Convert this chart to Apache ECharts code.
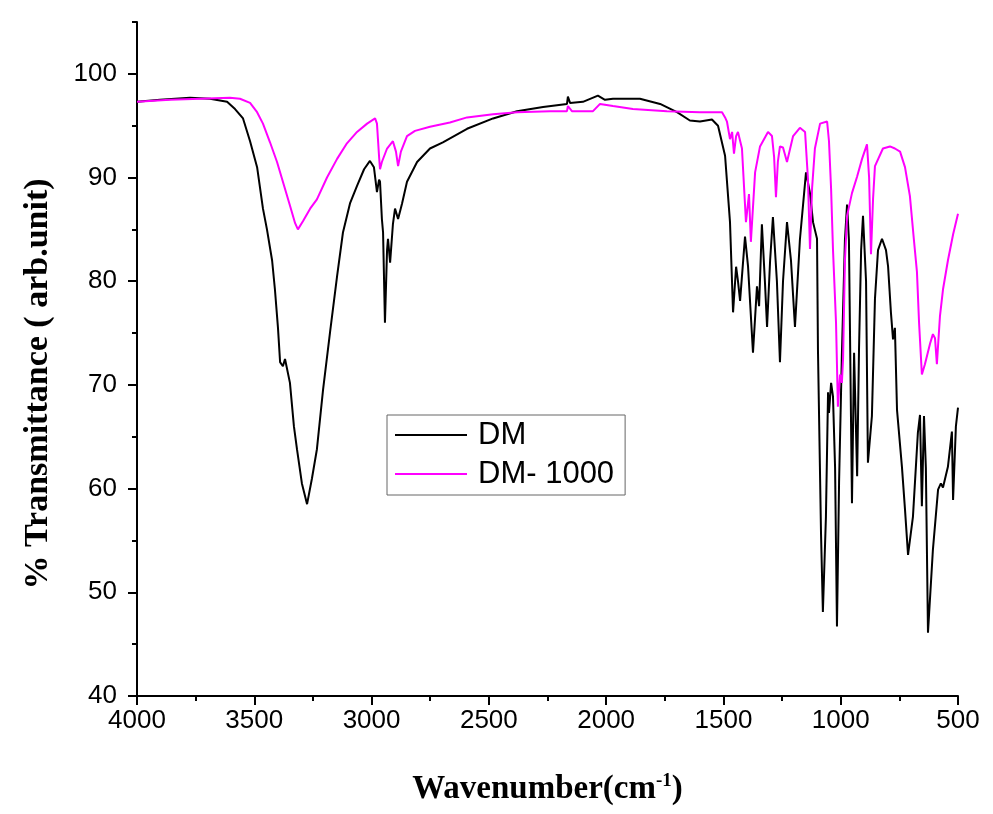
<!DOCTYPE html>
<html>
<head>
<meta charset="utf-8">
<script src="https://cdn.jsdelivr.net/npm/echarts@6/dist/echarts.min.js"></script>
<style>
html,body{margin:0;padding:0;background:#fff;}
#chart{width:993px;height:814px;}
</style>
</head>
<body>
<div id="chart"></div>
<script>
// ---- Data ----
var seriesNames = ['DM', 'DM- 1000'];

var dmWavenumber = [4000,3902,3774,3689,3616,3582,3548,3518,3488,3463,3446,3424,3412,3399,3390,3378,3369,3348,3331,3318,3297,3275,3254,3233,3207,3177,3147,3122,3092,3062,3032,3007,2990,2977,2968,2964,2956,2951,2943,2934,2930,2921,2909,2900,2887,2870,2849,2806,2751,2696,2593,2482,2380,2269,2167,2163,2154,2099,2035,2005,1971,1856,1770,1698,1643,1600,1549,1523,1515,1493,1472,1459,1446,1438,1429,1408,1395,1374,1357,1348,1336,1323,1314,1301,1289,1272,1259,1246,1229,1212,1195,1174,1148,1131,1118,1101,1097,1084,1076,1063,1054,1050,1041,1033,1024,1016,1007,995,982,973,965,952,943,930,922,913,905,892,884,867,854,841,824,807,798,786,777,769,760,739,726,713,692,671,662,654,645,637,628,607,585,573,564,543,526,521,509,500];
var dmValues = [97.3,97.5,97.7,97.6,97.3,96.6,95.7,93.5,91.0,87.0,85.0,82.0,79.2,75.5,72.2,71.8,72.5,70.2,66.0,63.8,60.5,58.5,61.0,63.8,69.5,75.1,80.5,84.7,87.5,89.2,90.8,91.6,91.0,88.6,89.8,89.6,86.0,84.7,76.0,83.0,84.1,81.8,85.5,87.0,86.0,87.5,89.6,91.5,92.8,93.4,94.7,95.7,96.4,96.8,97.1,97.8,97.2,97.3,97.9,97.5,97.6,97.6,97.1,96.3,95.5,95.4,95.6,95.0,95.0,92.1,85.7,77.0,81.4,80.0,78.1,84.3,81.4,73.1,79.5,77.6,85.5,79.9,75.6,82.0,86.2,80.0,72.2,80.0,85.7,82.0,75.6,84.0,90.5,88.5,85.7,84.1,73.4,55.7,48.1,57.3,69.3,67.3,70.2,68.9,62.0,46.7,60.6,73.0,84.0,87.4,84.0,58.6,73.1,61.2,73.4,83.0,86.3,80.0,62.5,67.0,78.3,83.0,84.1,83.0,81.4,77.0,74.4,75.5,67.6,62.1,58.0,53.6,57.3,65.4,67.1,58.3,67.0,62.0,46.1,54.1,59.9,60.5,60.1,62.1,65.5,58.9,66.0,67.8];

var dm1000Wavenumber = [4000,3859,3731,3604,3561,3518,3488,3463,3433,3403,3378,3348,3326,3314,3292,3262,3233,3190,3147,3105,3062,3019,2985,2977,2968,2964,2956,2934,2909,2896,2887,2875,2849,2815,2751,2666,2593,2482,2380,2239,2167,2163,2146,2056,2026,1971,1886,1741,1600,1506,1493,1485,1472,1463,1455,1446,1438,1421,1404,1391,1383,1365,1344,1310,1293,1284,1276,1268,1259,1246,1229,1203,1174,1152,1140,1131,1122,1110,1088,1058,1050,1041,1033,1020,1012,1003,995,990,982,973,952,930,909,888,879,871,862,854,820,790,769,747,726,705,688,675,666,654,641,619,607,598,590,577,564,543,521,500];
var dm1000Values = [97.3,97.5,97.6,97.7,97.6,97.2,96.3,95.2,93.4,91.5,89.6,87.3,85.6,85.0,85.8,87.0,87.9,90.0,91.8,93.3,94.4,95.2,95.7,95.2,92.0,90.8,91.5,92.8,93.5,92.5,91.1,92.5,94.0,94.5,94.9,95.3,95.8,96.1,96.3,96.4,96.4,96.9,96.4,96.4,97.1,96.9,96.6,96.4,96.3,96.3,95.8,95.4,93.7,94.4,92.3,94.0,94.4,92.8,85.7,88.4,83.8,90.5,93.0,94.4,94.0,92.0,88.1,91.5,93.0,92.9,91.5,94.0,94.8,94.4,90.0,83.1,89.0,92.8,95.2,95.4,93.5,88.9,83.1,76.0,67.9,71.0,70.2,72.5,82.0,86.3,88.5,90.1,91.8,93.2,90.0,82.6,88.0,91.1,92.8,93.0,92.8,92.5,91.0,88.2,84.0,80.9,76.0,71.0,72.0,74.0,74.9,74.5,72.0,76.6,79.2,82.0,84.5,86.5];

var yLabelValues = [40,50,60,70,80,90,100];
var yMinorValues = [45,55,65,75,85,95,105];

// ---- Build series data ----
function pairs(xs, ys){ return xs.map(function(x,i){ return [x, ys[i]]; }); }

var chart = echarts.init(document.getElementById('chart'), null, {renderer:'canvas'});
var axisColor = '#000';
var option = {
  backgroundColor: '#fff',
  animation: false,
  grid: {left: 137, right: 35, top: 22, bottom: 118},
  legend: {
    orient: 'vertical',
    left: 387, top: 415,
    data: seriesNames,
    icon: 'rect',
    itemWidth: 72, itemHeight: 2,
    itemGap: 7,
    borderColor: '#666', borderWidth: 1,
    padding: [4, 11, 5, 8],
    textStyle: {fontFamily: 'Liberation Sans', fontSize: 31, color: '#000', lineHeight: 32, padding: [0,0,0,6]}
  },
  xAxis: {
    type: 'value', inverse: true, min: 500, max: 4000, interval: 500,
    splitLine: {show: false},
    axisLine: {lineStyle: {color: axisColor, width: 2}},
    axisTick: {length: 9, lineStyle: {color: axisColor, width: 2}},
    minorTick: {show: true, splitNumber: 2, length: 5, lineStyle: {color: axisColor, width: 2}},
    axisLabel: {color: '#000', fontFamily: 'Liberation Sans', fontSize: 26, margin: 12,
      formatter: function(v){ return String(v); }},
    name: 'Wavenumber(cm{sup|-1})',
    nameLocation: 'middle', nameGap: 76,
    nameTextStyle: {fontFamily: 'Liberation Serif', fontWeight: 'bold', fontSize: 33, color: '#000',
      rich: {sup: {fontFamily: 'Liberation Serif', fontWeight: 'bold', fontSize: 19, color: '#000', verticalAlign: 'top', padding: [0,0,16,0]}}}
  },
  yAxis: [{
    type: 'value', min: 40, max: 105, interval: 5,
    splitLine: {show: false},
    axisLine: {onZero: false, lineStyle: {color: axisColor, width: 2}},
    axisTick: {length: 9, customValues: yLabelValues, lineStyle: {color: axisColor, width: 2}},
    axisLabel: {customValues: yLabelValues, color: '#000', fontFamily: 'Liberation Sans', fontSize: 26, margin: 20},
    name: '% Transmittance ( arb.unit)',
    nameLocation: 'middle', nameGap: 82,
    nameTextStyle: {fontFamily: 'Liberation Serif', fontWeight: 'bold', fontSize: 34, color: '#000', padding: [0, 50, 0, 0]}
  }, {
    type: 'value', min: 40, max: 105, interval: 5, position: 'left',
    splitLine: {show: false},
    axisLine: {show: false},
    axisTick: {length: 5, customValues: yMinorValues, lineStyle: {color: axisColor, width: 2}},
    axisLabel: {show: false}
  }],
  series: [{
    name: seriesNames[0], type: 'line', yAxisIndex: 0,
    data: pairs(dmWavenumber, dmValues),
    showSymbol: false, symbol: 'none',
    lineStyle: {color: '#000', width: 2}, itemStyle: {color: '#000'}
  }, {
    name: seriesNames[1], type: 'line', yAxisIndex: 0,
    data: pairs(dm1000Wavenumber, dm1000Values),
    showSymbol: false, symbol: 'none',
    lineStyle: {color: '#ff00ff', width: 2}, itemStyle: {color: '#ff00ff'}
  }]
};
chart.setOption(option);
</script>
</body>
</html>
